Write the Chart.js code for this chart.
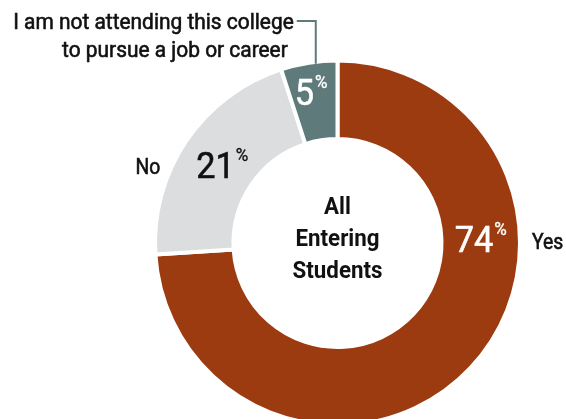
<!DOCTYPE html>
<html>
<head>
<meta charset="utf-8">
<script src="https://cdn.jsdelivr.net/npm/chart.js@4.4.1/dist/chart.umd.min.js"></script>
<style>
    html, body { margin: 0; padding: 0; background: #fff; overflow: hidden; }
    #wrap { position: relative; width: 566px; height: 440px; }
</style>
</head>
<body>
<div id="wrap"><canvas id="donut_chart"></canvas></div>
<script>
const categories = ['Yes', 'No', 'I am not attending this college to pursue a job or career']
const percentValues = [74, 21, 5]
const sliceColors = ['#9C3A10', '#DCDDDF', '#5E7A7B']
const valueTextColors = ['#ffffff', '#111111', '#ffffff']
const centerLines = ['All', 'Entering', 'Students']
const noteLines = ['I am not attending this college', 'to pursue a job or career']

const FONT = 'Roboto, "Liberation Sans", sans-serif'

// text drawn horizontally squeezed to look like a condensed face
function condensedText(ctx, text, x, y, align, font, squeeze, thicken) {
    ctx.save()
    ctx.font = font
    const w = ctx.measureText(text).width * squeeze
    let left = x
    if (align === 'right') left = x - w
    if (align === 'center') left = x - w / 2
    ctx.translate(left, y)
    ctx.scale(squeeze, 1)
    ctx.textAlign = 'left'
    ctx.fillText(text, 0, 0)
    if (thicken) {
        ctx.strokeStyle = ctx.fillStyle
        ctx.lineWidth = thicken
        ctx.strokeText(text, 0, 0)
    }
    ctx.restore()
    return w
}

function textWidth(ctx, text, font, squeeze) {
    ctx.save()
    ctx.font = font
    const w = ctx.measureText(text).width * squeeze
    ctx.restore()
    return w
}

// draws the percent labels, outside labels, center title and the leader line
const donutLabels = {
    id: 'donutLabels',
    afterDraw(chart) {
        const ctx = chart.ctx
        const arcs = chart.getDatasetMeta(0).data
        const first = arcs[0]
        const cx = first.x, cy = first.y
        const outer = first.outerRadius, inner = first.innerRadius
        const midR = (outer + inner) / 2

        ctx.save()
        ctx.textBaseline = 'alphabetic'

        // percent values inside the slices
        arcs.forEach(function (arc, i) {
            let angle = (arc.startAngle + arc.endAngle) / 2
            let r = midR
            if (i === 0) {
                angle = -0.03 // keep the big slice label on the right side
            }
            if (i === 1) {
                r = midR - 4
            }
            if (i === 2) {
                angle = arc.startAngle + (arc.endAngle - arc.startAngle) * 0.45
                r = midR + 10
            }
            const x = cx + Math.cos(angle) * r
            const y = cy + Math.sin(angle) * r
            const num = String(percentValues[i])
            const numFont = '36px ' + FONT
            const pctFont = '19px ' + FONT
            const nw = textWidth(ctx, num, numFont, 0.95)
            const pw = textWidth(ctx, '%', pctFont, 0.9)
            const total = nw + pw + 1
            ctx.fillStyle = valueTextColors[i]
            condensedText(ctx, num, x - total / 2, y + 13, 'left', numFont, 0.95, 0.6)
            condensedText(ctx, '%', x - total / 2 + nw + 1, y - 4, 'left', pctFont, 0.9, 0.4)
        })

        // outside category labels
        const labelFont = '22px ' + FONT
        ctx.fillStyle = '#111111'
        condensedText(ctx, categories[0], cx + outer + 12, cy + 6, 'left', labelFont, 0.88, 0.6)
        const noArc = arcs[1]
        const noAngle = noArc.startAngle + (noArc.endAngle - noArc.startAngle) * 0.38
        condensedText(ctx, categories[1], cx + Math.cos(noAngle) * outer - 12, cy + Math.sin(noAngle) * outer + 8, 'right', labelFont, 0.88, 0.6)

        // leader line for the small slice
        const small = arcs[2]
        const la = small.startAngle + (small.endAngle - small.startAngle) * 0.62
        const lx = cx + Math.cos(la) * outer
        const ly = cy + Math.sin(la) * outer
        const topY = 21
        ctx.strokeStyle = sliceColors[2]
        ctx.lineWidth = 2
        ctx.beginPath()
        ctx.moveTo(lx - 19, topY)
        ctx.lineTo(lx, topY)
        ctx.lineTo(lx, ly + 2)
        ctx.stroke()

        ctx.fillStyle = '#111111'
        condensedText(ctx, noteLines[0], lx - 22, topY + 8, 'right', labelFont, 0.95, 0.6)
        condensedText(ctx, noteLines[1], lx - 28, topY + 36, 'right', labelFont, 0.95, 0.6)

        // center title
        const titleFont = 'bold 24px ' + FONT
        centerLines.forEach(function (line, i) {
            condensedText(ctx, line, cx, cy - 29 + i * 32, 'center', titleFont, 0.93, 0)
        })

        ctx.restore()
    }
}

new Chart(document.getElementById('donut_chart'), {
    type: 'doughnut',
    data: {
        labels: categories,
        datasets: [{
            data: percentValues,
            backgroundColor: sliceColors,
            borderColor: '#ffffff',
            borderWidth: 4,
            hoverOffset: 0,
        }],
    },
    options: {
        responsive: true,
        maintainAspectRatio: false,
        animation: false,
        cutout: '57%',
        layout: {
            padding: { left: 153, right: 44, top: 58, bottom: 12 },
        },
        plugins: {
            legend: { display: false },
            tooltip: { enabled: false },
        },
    },
    plugins: [donutLabels],
});
</script>
</body>
</html>
